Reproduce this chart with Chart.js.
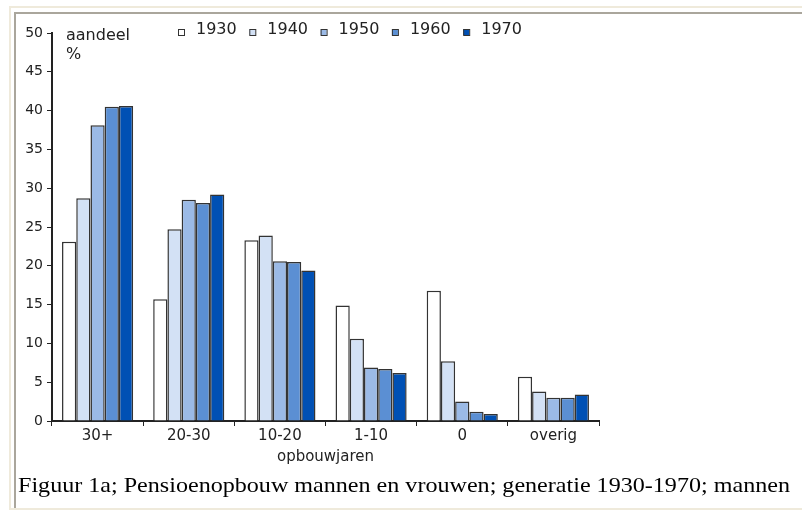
<!DOCTYPE html>
<html>
<head>
<meta charset="utf-8">
<script src="https://cdn.jsdelivr.net/npm/chart.js@4"></script>
<style>
    body { margin: 0; background: #fff; width: 802px; height: 511px; overflow: hidden; position: relative; }
    .outer { position: absolute; left: 9px; top: 6px; width: 800px; height: 500px; border: 2px solid #efeadb; }
    .inner { position: absolute; left: 14px; top: 12px; width: 800px; height: 494px; border-left: 2px solid #aaa69c; border-top: 2px solid #aaa69c; }
    #chart { position: absolute; left: 0; top: 0; }
    .caption { position: absolute; left: 18px; top: 473px; font-family: "Liberation Serif", serif; font-size: 21px; color: #000; white-space: nowrap; transform: scaleX(1.147); transform-origin: 0 0; }
</style>
</head>
<body>
<div class="outer"></div>
<div class="inner"></div>
<canvas id="chart" width="802" height="511"></canvas>
<div class="caption">Figuur 1a; Pensioenopbouw mannen en vrouwen; generatie 1930-1970; mannen</div>
<script>
// Data
const categories = ['30+', '20-30', '10-20', '1-10', '0', 'overig'];
const generations = ['1930', '1940', '1950', '1960', '1970'];
const share1930 = [23.1, 15.7, 23.3, 14.9, 16.8, 5.7];
const share1940 = [28.7, 24.7, 23.9, 10.6, 7.7, 3.8];
const share1950 = [38.1, 28.5, 20.6, 6.9, 2.5, 3.0];
const share1960 = [40.5, 28.1, 20.5, 6.7, 1.2, 3.0];
const share1970 = [40.6, 29.2, 19.4, 6.2, 0.9, 3.4];
const yTicks = [0, 5, 10, 15, 20, 25, 30, 35, 40, 45, 50];

const colors = ['#ffffff', '#d3e1f5', '#9bbae6', '#5b8fd3', '#0050b4'];
const seriesValues = [share1930, share1940, share1950, share1960, share1970];
const FONT = 'DejaVu Sans';

// Legend and "aandeel %" label drawn on top of the plot
const overlayPlugin = {
    id: 'overlay',
    afterDraw: (chart) => {
        const ctx = chart.ctx;
        ctx.save();
        ctx.fillStyle = '#222';
        ctx.font = `16px "${FONT}"`;
        ctx.textBaseline = 'alphabetic';
        ctx.textAlign = 'left';
        ctx.fillText('aandeel', 66, 40);
        ctx.fillText('%', 66, 59);

        chart.data.datasets.forEach((ds, i) => {
            const x = 178 + i * 71.3;
            ctx.fillStyle = ds.backgroundColor;
            ctx.strokeStyle = '#333';
            ctx.lineWidth = 1;
            ctx.fillRect(x, 29, 6, 6);
            ctx.strokeRect(x + 0.5, 29.5, 6, 6);
            ctx.fillStyle = '#222';
            ctx.font = `16px "${FONT}"`;
            ctx.fillText(ds.label, x + 18, 34);
        });
        ctx.restore();
    }
};

const chart = new Chart(document.getElementById('chart'), {
    type: 'bar',
    data: {
        labels: categories,
        datasets: generations.map((g, i) => ({
            label: g,
            data: seriesValues[i],
            backgroundColor: colors[i],
            borderColor: '#333',
            borderWidth: 1.5,
            borderSkipped: 'bottom',
            categoryPercentage: 0.78,
            barPercentage: 1.0
        }))
    },
    options: {
        responsive: false,
        animation: false,
        layout: {
            padding: { left: 0, right: 203, top: 33, bottom: 41 }
        },
        plugins: {
            legend: { display: false },
            tooltip: { enabled: false }
        },
        scales: {
            x: {
                grid: {
                    display: true,
                    drawOnChartArea: false,
                    drawTicks: true,
                    tickLength: 5,
                    color: '#222',
                    offset: true
                },
                border: { display: true, color: '#222', width: 2 },
                ticks: {
                    color: '#222',
                    font: { family: FONT, size: 15 },
                    padding: 1,
                    maxRotation: 0
                },
                title: {
                    display: true,
                    text: 'opbouwjaren',
                    color: '#222',
                    font: { family: FONT, size: 15 },
                    padding: { top: 0, bottom: 4 }
                },
                afterFit: (scale) => { scale.height = 49; }
            },
            y: {
                min: 0,
                max: 50,
                afterBuildTicks: (scale) => { scale.ticks = yTicks.map(v => ({ value: v })); },
                grid: {
                    display: true,
                    drawOnChartArea: false,
                    drawTicks: true,
                    tickLength: 5,
                    color: '#222'
                },
                border: { display: true, color: '#222', width: 2 },
                ticks: {
                    color: '#222',
                    font: { family: FONT, size: 14 },
                    padding: 4
                },
                afterFit: (scale) => { scale.width = 52; }
            }
        }
    },
    plugins: [overlayPlugin]
});
</script>
</body>
</html>
